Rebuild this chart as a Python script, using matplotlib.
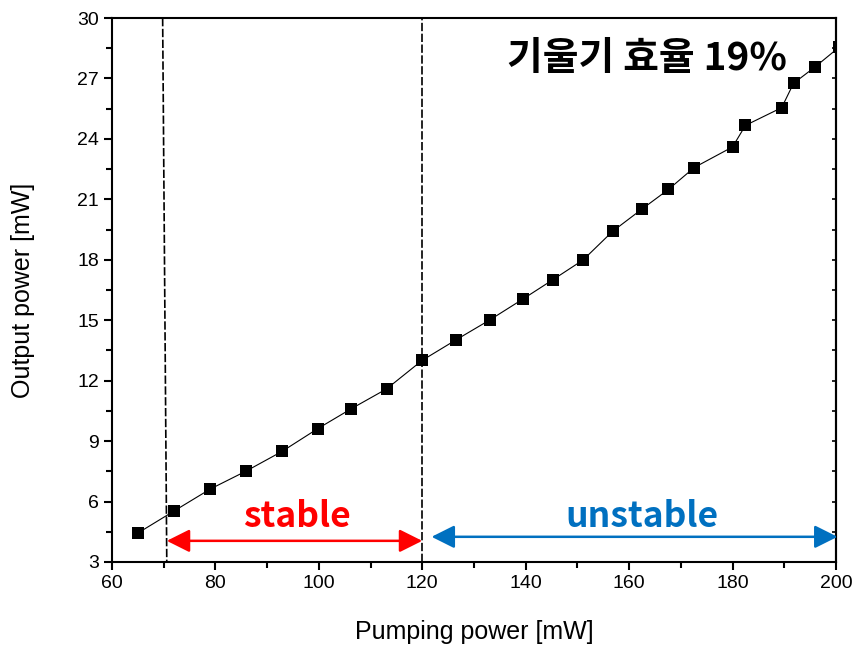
import numpy as np
import matplotlib.pyplot as plt
from matplotlib.ticker import MultipleLocator

# data
pump_mw = [65.1, 72.0, 79.0, 86.0, 92.9, 99.8, 106.3, 113.1, 120.0,
           126.5, 133.1, 139.4, 145.2, 151.1, 156.8, 162.4, 167.6, 172.6,
           180.0, 182.5, 189.5, 191.8, 196.0, 200.6]
out_mw = [4.45, 5.53, 6.62, 7.52, 8.49, 9.62, 10.61, 11.59, 13.01,
          14.02, 15.02, 16.04, 17.0, 17.99, 19.41, 20.5, 21.49, 22.58,
          23.6, 24.67, 25.55, 26.76, 27.58, 28.55]

x_ticks = [60, 80, 100, 120, 140, 160, 180, 200]
y_ticks = [3, 6, 9, 12, 15, 18, 21, 24, 27, 30]

threshold_line = ([69.8, 70.6], [30, 3])
stable_edge = 120
stable_range = (70.6, 120)
unstable_range = (121.8, 200.3)

kr_font = ['Noto Sans CJK KR', 'DejaVu Sans']
plt.rcParams['font.family'] = ['Liberation Sans', 'DejaVu Sans']

fig = plt.figure(figsize=(8.56, 6.5), dpi=100)
ax = fig.add_axes([0.1308, 0.1354, 0.8458, 0.8369])

ax.plot(pump_mw, out_mw, color='black', lw=0.8, marker='s', ms=8.5,
        markeredgewidth=0, clip_on=True, zorder=3)

# dashed guide lines
ax.plot(threshold_line[0], threshold_line[1], color='black', lw=1.2,
        dashes=[5, 1.5], zorder=2)
ax.axvline(stable_edge, color='black', lw=1.2, dashes=[5, 1.5], zorder=2)

# range arrows
ax.annotate('', xy=(stable_range[1], 4.05), xytext=(stable_range[0], 4.05),
            arrowprops=dict(arrowstyle='<|-|>,head_length=1.0,head_width=0.5',
                            mutation_scale=14, color='#ff0000', lw=1.8,
                            shrinkA=0, shrinkB=0))
ax.annotate('', xy=(unstable_range[1], 4.25), xytext=(unstable_range[0], 4.25),
            arrowprops=dict(arrowstyle='<|-|>,head_length=1.0,head_width=0.5',
                            mutation_scale=14, color='#0070c0', lw=1.8,
                            shrinkA=0, shrinkB=0), annotation_clip=False)

ax.text(95.7, 5.25, 'stable', color='#ff0000', fontsize=25.5, fontweight='bold',
        family=kr_font, ha='center', va='center')
ax.text(162.4, 5.25, 'unstable', color='#0070c0', fontsize=25.5, fontweight='bold',
        family=kr_font, ha='center', va='center')
ax.text(163.4, 28.0, '기울기 효율 19%', color='black', fontsize=28,
        fontweight='bold', family=kr_font, ha='center', va='center')

ax.set_xlim(60, 200)
ax.set_ylim(3, 30)
ax.set_xticks(x_ticks)
ax.set_yticks(y_ticks)
ax.xaxis.set_minor_locator(MultipleLocator(10))
ax.yaxis.set_minor_locator(MultipleLocator(1.5))
ax.tick_params(which='major', length=6, width=1.5, labelsize=14, direction='out')
ax.tick_params(which='minor', length=4, width=1.5, direction='out')

sec = ax.secondary_yaxis('right')
sec.set_yticks(y_ticks)
sec.yaxis.set_minor_locator(MultipleLocator(1.5))
sec.tick_params(which='both', direction='in', length=3, width=1.2, labelright=False)
sec.spines['right'].set_linewidth(1.5)

for s in ax.spines.values():
    s.set_linewidth(1.5)

ax.set_xlabel('Pumping power [mW]', fontsize=18, labelpad=20)
ax.set_ylabel('Output power [mW]', fontsize=18, labelpad=30)

fig.savefig('out.png', dpi=100)
